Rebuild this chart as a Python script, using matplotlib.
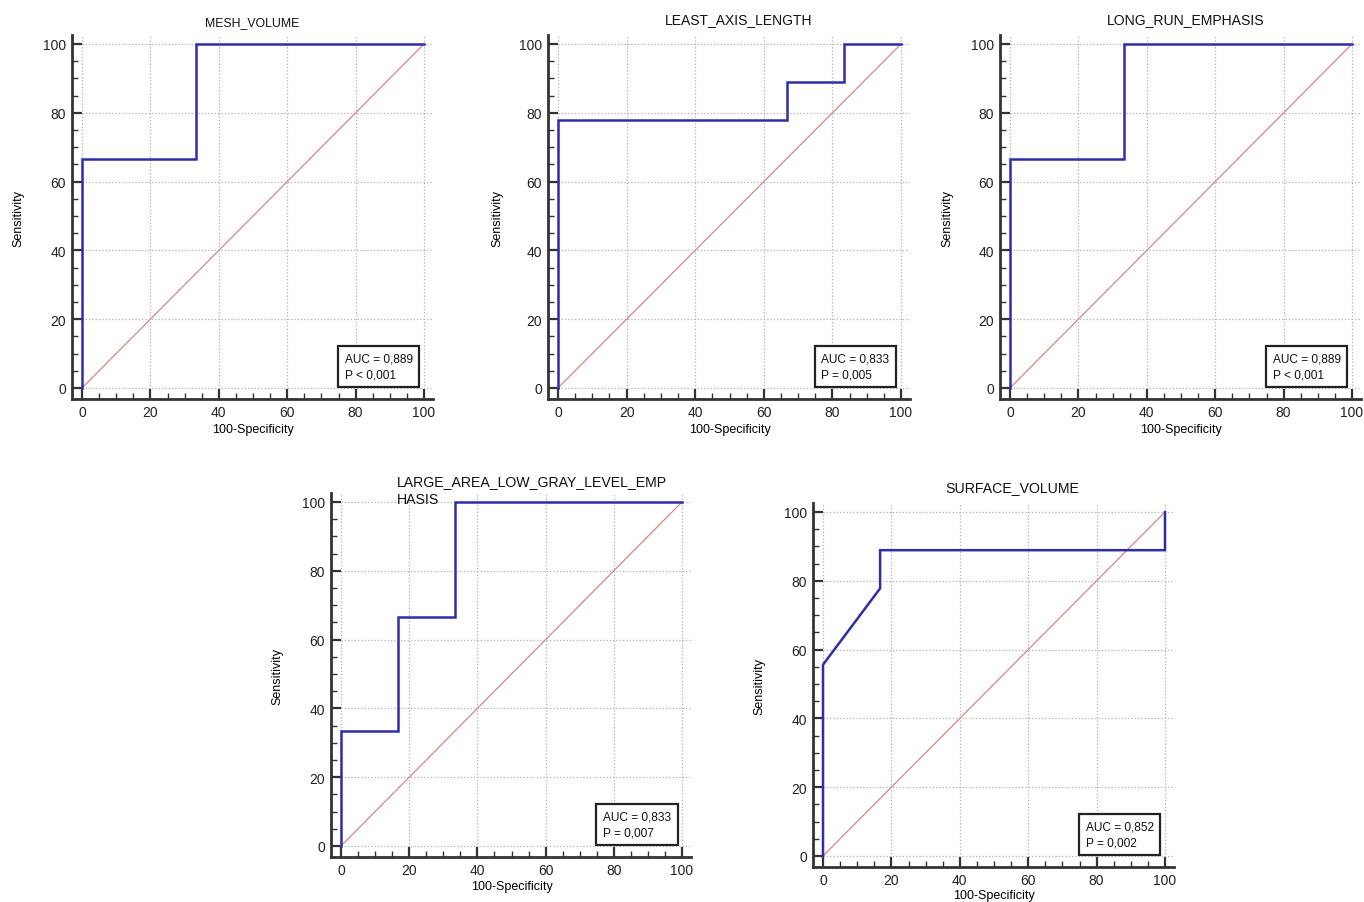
import matplotlib
matplotlib.use("Agg")
import matplotlib.pyplot as plt
from matplotlib.ticker import MultipleLocator

plt.rcParams['font.family'] = ['Liberation Sans', 'DejaVu Sans']

W, H = 1364, 903

titles = ["MESH_VOLUME", "LEAST_AXIS_LENGTH", "LONG_RUN_EMPHASIS",
          "LARGE_AREA_LOW_GRAY_LEVEL_EMP\nHASIS", "SURFACE_VOLUME"]

fpr_mesh = [0, 0, 33.3, 33.3, 100]
tpr_mesh = [0, 66.7, 66.7, 100, 100]
fpr_least = [0, 0, 66.7, 66.7, 83.3, 83.3, 100]
tpr_least = [0, 77.8, 77.8, 88.9, 88.9, 100, 100]
fpr_lre = [0, 0, 33.3, 33.3, 100]
tpr_lre = [0, 66.7, 66.7, 100, 100]
fpr_lalgle = [0, 0, 16.7, 16.7, 33.3, 33.3, 100]
tpr_lalgle = [0, 33.3, 33.3, 66.7, 66.7, 100, 100]
fpr_surf = [0, 0, 16.7, 16.7, 100, 100]
tpr_surf = [0, 55.6, 77.8, 88.9, 88.9, 100]

auc_text = ["AUC = 0,889\nP < 0,001", "AUC = 0,833\nP = 0,005", "AUC = 0,889\nP < 0,001",
            "AUC = 0,833\nP = 0,007", "AUC = 0,852\nP = 0,002"]

curves = [(fpr_mesh, tpr_mesh), (fpr_least, tpr_least), (fpr_lre, tpr_lre),
          (fpr_lalgle, tpr_lalgle), (fpr_surf, tpr_surf)]

# pixel positions: (x of data 0, x of data 100, y of data 0, y of data 100)
panels = [(82, 424, 389, 45), (558, 901, 389, 45), (1010, 1352, 389, 45),
          (341, 682, 847, 503), (823, 1165, 857, 513)]
# title: (x px, y px, ha, size)
title_pos = [(252, 23, 'center', 8.8), (739, 20, 'center', 10.0), (1186, 20, 'center', 10.1),
             (397, 491, 'left', 10.2), (1012, 488, 'center', 10.2)]
xlabel_y = [430, 430, 430, 887, 896]
ylabel_x = [18, 497, 947, 277, 759]

XLIM = (-3.0, 102.6)
YLIM = (-3.2, 102.6)

fig = plt.figure(figsize=(W / 100, H / 100), dpi=100)
spine_c = '#333333'

for i, (x0, x100, y0, y100) in enumerate(panels):
    sx = (x100 - x0) / 100.0
    sy = (y0 - y100) / 100.0
    left = x0 + XLIM[0] * sx
    right = x0 + XLIM[1] * sx
    bottom = y0 - YLIM[0] * sy
    top = y0 - YLIM[1] * sy
    ax = fig.add_axes([left / W, 1 - bottom / H, (right - left) / W, (bottom - top) / H])
    ax.set_xlim(*XLIM)
    ax.set_ylim(*YLIM)
    for s in ['top', 'right']:
        ax.spines[s].set_visible(False)
    for s in ['left', 'bottom']:
        ax.spines[s].set_linewidth(2.0)
        ax.spines[s].set_color(spine_c)
    ax.xaxis.set_major_locator(MultipleLocator(20))
    ax.yaxis.set_major_locator(MultipleLocator(20))
    ax.xaxis.set_minor_locator(MultipleLocator(5))
    ax.yaxis.set_minor_locator(MultipleLocator(5))
    ax.tick_params(which='major', direction='in', length=7, width=1.6, color=spine_c,
                   labelsize=10, pad=4, labelcolor='#222222')
    ax.tick_params(which='minor', direction='in', length=4, width=1.0, color=spine_c)
    ax.grid(True, which='major', linestyle=':', linewidth=0.9, color='#b0b0b0')
    ax.set_axisbelow(True)

    ax.plot([0, 100], [0, 100], color='#d98585', linewidth=0.9, zorder=2)
    fx, ty = curves[i]
    ax.plot(fx, ty, color='#2e2ea8', linewidth=1.8, zorder=3, solid_joinstyle='miter')

    ax.text(76.8, 2.2, auc_text[i], fontsize=8.6, ha='left', va='bottom', zorder=5,
            linespacing=1.45, color='#111111',
            bbox=dict(boxstyle='square,pad=0.55', facecolor='white', edgecolor='#222222',
                      linewidth=1.6))

    tx, tyy, ha, tsz = title_pos[i]
    fig.text(tx / W, 1 - tyy / H, titles[i], ha=ha, va='center', fontsize=tsz,
             color='#111111', linespacing=1.3)
    ax.set_xlabel("100-Specificity", fontsize=9)
    ax.set_ylabel("Sensitivity", fontsize=9)
    ax.xaxis.set_label_coords(((x0 + x100) / 2 - left) / (right - left),
                              -(xlabel_y[i] - bottom) / (bottom - top), transform=ax.transAxes)
    ax.yaxis.set_label_coords(-(left - ylabel_x[i]) / (right - left), 0.5, transform=ax.transAxes)
    ax.xaxis.label.set_va('center')
    ax.yaxis.label.set_va('center')

fig.savefig("out.png", dpi=100)
